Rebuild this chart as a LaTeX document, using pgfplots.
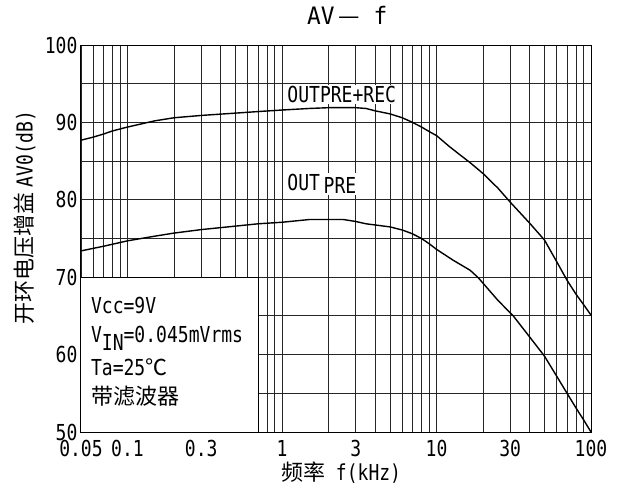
\documentclass[border=0pt]{standalone}
\usepackage{fontspec}
\usepackage{pgfplots}
\pgfplotsset{compat=1.18}
\setmainfont{DejaVu Sans Mono}[FakeStretch=0.82]
\newfontfamily\cjk{Noto Sans CJK SC}
\newfontfamily\titlefont{DejaVu Sans Mono}[FakeStretch=0.95]

\begin{document}
\begin{tikzpicture}[font=\fontsize{22}{26}\selectfont]
\useasboundingbox (0,0) rectangle (618pt,493pt);
\begin{axis}[
	at={(81pt,61pt)}, anchor=south west,
	width=510pt, height=387pt, scale only axis,
	xmode=log, xmin=0.05, xmax=100, ymin=50, ymax=100,
	xtick={0.05,0.1,0.3,1,3,10,30,100},
	xticklabels={0.05,0.1,0.3,1,3,10,30,100},
	xticklabel style={yshift=-5pt},
	minor xtick={0.06,0.07,0.08,0.09,0.2,0.4,0.5,0.6,0.7,0.8,0.9,2,4,5,6,7,8,9,20,40,50,60,70,80,90},
	ytick={50,60,...,100},
	minor ytick={55,65,75,85,95},
	grid=both,
	major tick length=0pt, minor tick length=0pt,
	major grid style={black!85, line width=0.9pt},
	minor grid style={black!85, line width=0.9pt},
	axis line style={black, line width=1pt},
	/pgf/number format/assume math mode=true,
	title={{\titlefont\fontsize{24}{28}\selectfont AV\,{\cjk —}\ f}},
	title style={at={(axis description cs:0.522,1)}, anchor=center, yshift=24pt},
	xlabel={{\cjk 频率}\ f(kHz)},
	xlabel style={at={(axis description cs:0.51,0)}, anchor=center, yshift=-41pt},
	ylabel={{\cjk 开环电压增益}\hspace{5pt}AV0(dB)},
	ylabel style={at={(axis description cs:-0.11,0.554)}, anchor=center},
]
% upper curve: OUTPRE+REC
\addplot[black, line width=1.4pt] coordinates {
	(0.05,87.7)(0.06,88.1)(0.07,88.5)(0.08,88.9)(0.1,89.4)(0.15,90.2)
	(0.2,90.6)(0.3,90.9)(0.5,91.2)(0.7,91.4)(1,91.6)(1.5,91.8)(2,91.9)
	(3,91.9)(3.5,91.8)(4,91.5)(5,91.1)(6,90.6)(7,90.0)(8,89.4)(9,88.8)
	(10,88.3)(12,86.95)(14,85.9)(16.5,84.8)(20,83.4)(25,81.5)(30,79.7)
	(40,77.0)(50,74.8)(60,72.0)(70,69.6)(80,67.8)(90,66.4)(100,65.1)
};
% lower curve: OUT PRE
\addplot[black, line width=1.4pt] coordinates {
	(0.05,73.4)(0.07,74.0)(0.1,74.7)(0.15,75.3)(0.2,75.7)(0.3,76.15)
	(0.5,76.6)(0.7,76.9)(1,77.1)(1.5,77.45)(2.5,77.45)(3,77.2)(3.5,76.9)
	(5,76.5)(6,76.1)(7,75.6)(8,75.0)(9,74.3)(10,73.6)(12.8,72.2)
	(16.5,70.9)(18.7,69.9)(25,67.0)(31.4,65.0)(40,62.3)(50,59.8)
	(60,57.2)(70,55.0)(80,53.1)(90,51.5)(100,50.0)
};
% condition box
\draw[fill=white, line width=1pt] (axis cs:0.05,50) rectangle (axis cs:0.7,70);
\node[anchor=base west, inner sep=0pt] at (axis cs:0.0579,65.35) {Vcc=9V};
\node[anchor=base west, inner sep=0pt] at (axis cs:0.0579,61.5) {V\raisebox{-8pt}{IN}=0.045mVrms};
\node[anchor=base west, inner sep=0pt] at (axis cs:0.0579,57.35) {Ta=25{\cjk ℃}};
\node[anchor=base west, inner sep=0pt] at (axis cs:0.0579,53.5) {\cjk 带滤波器};
% curve labels
\node[anchor=base west, fill=white, inner sep=1pt] at (axis cs:1.065,92.6) {OUTPRE+REC};
\node[anchor=base west, fill=white, inner sep=1pt] at (axis cs:1.065,81.2) {OUT\,\raisebox{-3pt}{PRE}};
\end{axis}
\end{tikzpicture}
\end{document}
